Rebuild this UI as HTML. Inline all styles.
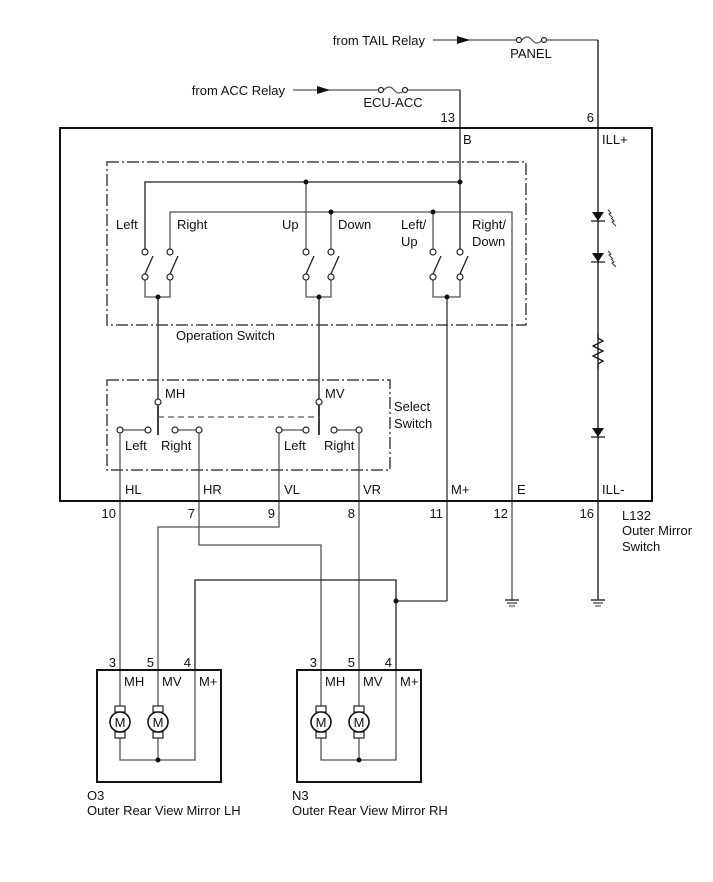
<!DOCTYPE html>
<html><head><meta charset="utf-8"><style>
html,body{margin:0;padding:0;background:#fff}
svg{display:block}
text{font-family:"Liberation Sans",Arial,sans-serif;font-size:13px;fill:#111}
</style></head><body>
<svg width="713" height="882" viewBox="0 0 713 882" xmlns="http://www.w3.org/2000/svg">
<defs>
<g id="motor">
<rect x="-5" y="-16" width="10" height="6" fill="#fff" stroke="#222" stroke-width="1.2"/>
<rect x="-5" y="10" width="10" height="6" fill="#fff" stroke="#222" stroke-width="1.2"/>
<circle r="10" fill="#fff" stroke="#111" stroke-width="1.6"/>
<text x="0" y="5" text-anchor="middle" style="font-size:13px">M</text>
</g>
<g id="gnd"><line x1="-7" y1="0" x2="7" y2="0" stroke="#333" stroke-width="1.5"/><line x1="-5" y1="3" x2="5" y2="3" stroke="#333" stroke-width="1.2"/><line x1="-3" y1="6" x2="3" y2="6" stroke="#333" stroke-width="1"/></g>
<g id="led"><polygon points="-6,-5 6,-5 0,4" fill="#111"/><line x1="-7" y1="4" x2="7" y2="4" stroke="#111" stroke-width="1.2"/>
<path d="M10,-7 l3,3 -2,1 4,4 M13,1 l3,3 -2,1 4,4" fill="none" stroke="#333" stroke-width="1"/></g>
</defs>
<g fill="none" stroke="#555" stroke-width="1.3">
<!-- top feeds -->
<line x1="433" y1="40" x2="518" y2="40"/><line x1="545" y1="40" x2="598" y2="40"/>
<line x1="598" y1="40" x2="598" y2="600" stroke="#111"/>
<line x1="293" y1="90" x2="380" y2="90"/><line x1="406" y1="90" x2="460" y2="90"/>
<line x1="460" y1="90" x2="460" y2="182" stroke="#222"/>
<path d="M522,40 q5,-6 10,0 q5,6 10,0"/>
<path d="M384,90 q5,-6 10,0 q5,6 10,0"/>
<!-- operation switch buses -->
<polyline points="145,250 145,182 460,182" stroke="#222"/>
<line x1="306" y1="182" x2="306" y2="250"/>
<line x1="460" y1="182" x2="460" y2="250" stroke="#222"/>
<polyline points="170,250 170,212 512,212 512,600"/>
<line x1="331" y1="212" x2="331" y2="250"/>
<line x1="433" y1="212" x2="433" y2="250"/>
<!-- switch pair bottoms -->
<polyline points="145,280 145,297 170,297 170,280"/>
<polyline points="306,280 306,297 331,297 331,280"/>
<polyline points="433,280 433,297 460,297 460,280"/>
<line x1="158" y1="297" x2="158" y2="399" stroke="#222"/>
<line x1="319" y1="297" x2="319" y2="399" stroke="#222"/>
<line x1="447" y1="297" x2="447" y2="601" stroke="#333"/>
<line x1="447" y1="601" x2="396" y2="601" stroke="#333"/>
<!-- switch blades -->
<g stroke="#222">
<line x1="145" y1="274" x2="153" y2="256"/><line x1="170" y1="274" x2="178" y2="256"/>
<line x1="306" y1="274" x2="314" y2="256"/><line x1="331" y1="274" x2="339" y2="256"/>
<line x1="433" y1="274" x2="441" y2="256"/><line x1="460" y1="274" x2="468" y2="256"/>
</g>
<!-- select switch -->
<line x1="158" y1="405" x2="158" y2="435" stroke="#111" stroke-width="1.6"/>
<line x1="319" y1="405" x2="319" y2="435" stroke="#111" stroke-width="1.6"/>
<line x1="158" y1="417" x2="319" y2="417" stroke-dasharray="6,4"/>
<line x1="120" y1="430" x2="148" y2="430"/><line x1="172" y1="430" x2="199" y2="430"/>
<line x1="279" y1="430" x2="306" y2="430"/><line x1="331" y1="430" x2="359" y2="430"/>
<!-- output wires -->
<line x1="120" y1="430" x2="120" y2="670"/>
<polyline points="199,430 199,545 321,545 321,670"/>
<polyline points="279,430 279,527 158,527 158,670"/>
<line x1="359" y1="430" x2="359" y2="670"/>
<polyline points="195,670 195,580 396,580 396,670" stroke="#222"/>
<!-- ILL resistor -->
<path d="M598,333 l0,5 l5,3 l-10,5 l10,5 l-10,5 l10,5 l-5,3 l0,5" stroke="#111"/>
<!-- motors wiring -->
<polyline points="120,670 120,760 195,760 195,670"/>
<line x1="158" y1="670" x2="158" y2="760"/>
<polyline points="321,670 321,760 396,760 396,670"/>
<line x1="359" y1="670" x2="359" y2="760"/>
</g>
<!-- arrows -->
<polygon points="457,36 470,40 457,44" fill="#111"/>
<polygon points="317,86 330,90 317,94" fill="#111"/>
<!-- boxes -->
<g fill="none" stroke="#111" stroke-width="2">
<rect x="60" y="128" width="592" height="373"/>
<rect x="97" y="670" width="124" height="112"/>
<rect x="297" y="670" width="124" height="112"/>
</g>
<g fill="none" stroke="#444" stroke-width="1.5" stroke-dasharray="12,3,2,3">
<rect x="107" y="162" width="419" height="163"/>
<rect x="107" y="380" width="283" height="90"/>
</g>
<!-- contact circles -->
<g fill="#fff" stroke="#222" stroke-width="1.2">
<circle cx="145" cy="252" r="3"/><circle cx="170" cy="252" r="3"/><circle cx="145" cy="277" r="3"/><circle cx="170" cy="277" r="3"/>
<circle cx="306" cy="252" r="3"/><circle cx="331" cy="252" r="3"/><circle cx="306" cy="277" r="3"/><circle cx="331" cy="277" r="3"/>
<circle cx="433" cy="252" r="3"/><circle cx="460" cy="252" r="3"/><circle cx="433" cy="277" r="3"/><circle cx="460" cy="277" r="3"/>
<circle cx="158" cy="402" r="3"/><circle cx="319" cy="402" r="3"/>
<circle cx="120" cy="430" r="3"/><circle cx="148" cy="430" r="3"/><circle cx="175" cy="430" r="3"/><circle cx="199" cy="430" r="3"/>
<circle cx="279" cy="430" r="3"/><circle cx="306" cy="430" r="3"/><circle cx="334" cy="430" r="3"/><circle cx="359" cy="430" r="3"/>
<circle cx="519" cy="40" r="2.5"/><circle cx="544" cy="40" r="2.5"/>
<circle cx="381" cy="90" r="2.5"/><circle cx="405" cy="90" r="2.5"/>
</g>
<!-- dots -->
<g fill="#111">
<circle cx="306" cy="182" r="2.5"/><circle cx="460" cy="182" r="2.5"/>
<circle cx="331" cy="212" r="2.5"/><circle cx="433" cy="212" r="2.5"/>
<circle cx="158" cy="297" r="2.5"/><circle cx="319" cy="297" r="2.5"/><circle cx="447" cy="297" r="2.5"/>
<circle cx="396" cy="601" r="2.5"/><circle cx="158" cy="760" r="2.5"/><circle cx="359" cy="760" r="2.5"/>
</g>
<use href="#led" x="598" y="217"/><use href="#led" x="598" y="258"/>
<polygon points="592,428 604,428 598,437" fill="#111"/><line x1="591" y1="437" x2="605" y2="437" stroke="#111" stroke-width="1.2"/>
<use href="#gnd" x="512" y="600"/><use href="#gnd" x="598" y="600"/>
<use href="#motor" x="120" y="722"/><use href="#motor" x="158" y="722"/>
<use href="#motor" x="321" y="722"/><use href="#motor" x="359" y="722"/>
<!-- text -->
<text x="425" y="45" text-anchor="end">from TAIL Relay</text>
<text x="531" y="58" text-anchor="middle">PANEL</text>
<text x="285" y="95" text-anchor="end">from ACC Relay</text>
<text x="393" y="107" text-anchor="middle">ECU-ACC</text>
<text x="455" y="122" text-anchor="end">13</text>
<text x="594" y="122" text-anchor="end">6</text>
<text x="463" y="144">B</text>
<text x="602" y="144">ILL+</text>
<text x="116" y="229">Left</text><text x="177" y="229">Right</text>
<text x="282" y="229">Up</text><text x="338" y="229">Down</text>
<text x="401" y="229">Left/</text><text x="401" y="246">Up</text>
<text x="472" y="229">Right/</text><text x="472" y="246">Down</text>
<text x="176" y="340">Operation Switch</text>
<text x="165" y="398">MH</text><text x="325" y="398">MV</text>
<text x="394" y="411">Select</text><text x="394" y="428">Switch</text>
<text x="125" y="450">Left</text><text x="161" y="450">Right</text>
<text x="284" y="450">Left</text><text x="324" y="450">Right</text>
<text x="125" y="494">HL</text><text x="203" y="494">HR</text><text x="284" y="494">VL</text>
<text x="363" y="494">VR</text><text x="451" y="494">M+</text><text x="517" y="494">E</text><text x="602" y="494">ILL-</text>
<text x="116" y="518" text-anchor="end">10</text><text x="195" y="518" text-anchor="end">7</text>
<text x="275" y="518" text-anchor="end">9</text><text x="355" y="518" text-anchor="end">8</text>
<text x="443" y="518" text-anchor="end">11</text><text x="508" y="518" text-anchor="end">12</text>
<text x="594" y="518" text-anchor="end">16</text>
<text x="622" y="520">L132</text><text x="622" y="535">Outer Mirror</text><text x="622" y="551">Switch</text>
<text x="116" y="667" text-anchor="end">3</text><text x="154" y="667" text-anchor="end">5</text><text x="191" y="667" text-anchor="end">4</text>
<text x="317" y="667" text-anchor="end">3</text><text x="355" y="667" text-anchor="end">5</text><text x="392" y="667" text-anchor="end">4</text>
<text x="124" y="686">MH</text><text x="162" y="686">MV</text><text x="199" y="686">M+</text>
<text x="325" y="686">MH</text><text x="363" y="686">MV</text><text x="400" y="686">M+</text>
<text x="87" y="800">O3</text><text x="87" y="815">Outer Rear View Mirror LH</text>
<text x="292" y="800">N3</text><text x="292" y="815">Outer Rear View Mirror RH</text>
</svg>
</body></html>
